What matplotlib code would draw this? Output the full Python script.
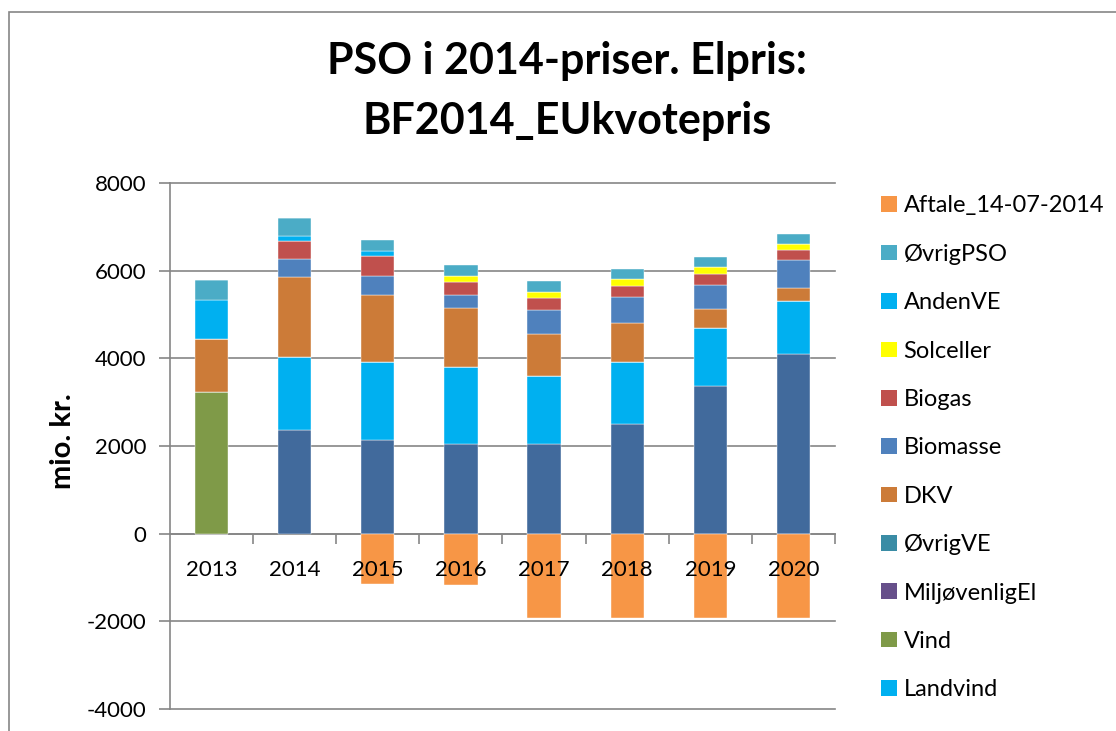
import matplotlib
matplotlib.use('Agg')
import matplotlib.pyplot as plt
import numpy as np
from matplotlib.patches import Patch, Rectangle

plt.rcParams['font.family'] = ['Lato', 'DejaVu Sans']
plt.rcParams['axes.unicode_minus'] = False

years = ['2013', '2014', '2015', '2016', '2017', '2018', '2019', '2020']

# bottom-up stacking order (legend lists them top-down in reverse)
havvind = [0, 2365, 2137, 2038, 2053, 2510, 3376, 4106]
landvind = [0, 1658, 1779, 1757, 1552, 1414, 1324, 1210]
vind = [3232, 0, 0, 0, 0, 0, 0, 0]
miljoevenlig_el = [0, 0, 0, 0, 0, 0, 0, 0]
oevrig_ve = [0, 0, 0, 0, 0, 0, 0, 0]
dkv = [1201, 1825, 1521, 1353, 958, 890, 425, 281]
biomasse = [0, 411, 441, 289, 547, 578, 556, 654]
biogas = [0, 418, 457, 304, 266, 258, 243, 213]
solceller = [0, 0, 0, 145, 137, 152, 152, 152]
anden_ve = [905, 114, 106, 0, 0, 0, 0, 0]
oevrig_pso = [441, 418, 259, 236, 244, 228, 228, 228]
aftale = [0, 0, -1156, -1163, -1923, -1923, -1930, -1935]

series = [
    ('Havvind', havvind, '#416A9C'),
    ('Landvind', landvind, '#00B0F0'),
    ('Vind', vind, '#7F9A48'),
    ('MiljøvenligEl', miljoevenlig_el, '#664F8A'),
    ('ØvrigVE', oevrig_ve, '#3A8CA5'),
    ('DKV', dkv, '#CC7B38'),
    ('Biomasse', biomasse, '#4F81BD'),
    ('Biogas', biogas, '#C0504D'),
    ('Solceller', solceller, '#FFFF00'),
    ('AndenVE', anden_ve, '#00B0F0'),
    ('ØvrigPSO', oevrig_pso, '#4BACC6'),
    ('Aftale_14-07-2014', aftale, '#F79646'),
]

fig = plt.figure(figsize=(11.16, 7.31), dpi=100)
ax = fig.add_axes([170 / 1116, 1 - 709 / 731, 665 / 1116, 526 / 731])

grid_col = '#868686'
ticks_y = list(range(-4000, 8001, 2000))
for t in ticks_y:
    ax.axhline(t, color=grid_col, linewidth=1.2, zorder=0.5, clip_on=False)

x = np.arange(len(years))
pos_bottom = np.zeros(len(years))
neg_bottom = np.zeros(len(years))
for name, vals, col in series:
    v = np.array(vals, dtype=float)
    bottom = np.where(v >= 0, pos_bottom, neg_bottom)
    ax.bar(x, v, 0.4, bottom=bottom, color=col, edgecolor='white', linewidth=0.3, zorder=1)
    pos_bottom += np.where(v >= 0, v, 0)
    neg_bottom += np.where(v < 0, v, 0)

ax.set_xlim(-0.5, len(years) - 0.5)
ax.set_ylim(-4000, 8000)
ax.set_yticks(ticks_y)

ax.set_xticks(x)
ax.set_xticklabels(years)
ax.set_xticks(np.arange(0.5, len(years)), minor=True)
ax.tick_params(axis='x', which='major', length=0, pad=19, labelsize=16)
ax.tick_params(axis='x', which='minor', length=7, color=grid_col, width=1.2)
ax.tick_params(axis='y', length=8, color=grid_col, width=1.2, labelsize=16, pad=9)

for s in ['top', 'right']:
    ax.spines[s].set_visible(False)
ax.spines['left'].set_color(grid_col)
ax.spines['left'].set_linewidth(1.2)
ax.spines['bottom'].set_position(('data', 0))
ax.spines['bottom'].set_color(grid_col)
ax.spines['bottom'].set_linewidth(1.2)
ax.spines['bottom'].set_zorder(0.6)

# y axis title
fig.text(63 / 1116, 1 - 441 / 731, 'mio. kr.', rotation=90, ha='center', va='center',
         fontsize=21, fontweight='bold')

fig.text(0.508, 1 - 91 / 731, 'PSO i 2014-priser. Elpris:\nBF2014_EUkvotepris',
         ha='center', va='center', fontsize=31, fontweight='bold', linespacing=1.62)

# legend: the last entry (Havvind) falls below the chart's visible area, so it is left out
handles = [Patch(facecolor=col, edgecolor='none', label=name) for name, _, col in reversed(series[1:])]
fig.legend(handles=handles, loc='upper left', bbox_to_anchor=(872 / 1116, 1 - 186 / 731),
           frameon=False, fontsize=17, handlelength=0.64, handleheight=0.64,
           handletextpad=0.3, labelspacing=1.16, borderaxespad=0)

# outer chart frame
fig.patches.append(Rectangle((9 / 1116, -0.1), 1.2, 1.1 - 12 / 731, transform=fig.transFigure,
                             fill=False, edgecolor=grid_col, linewidth=1.2))

fig.savefig('out.png', dpi=100)
